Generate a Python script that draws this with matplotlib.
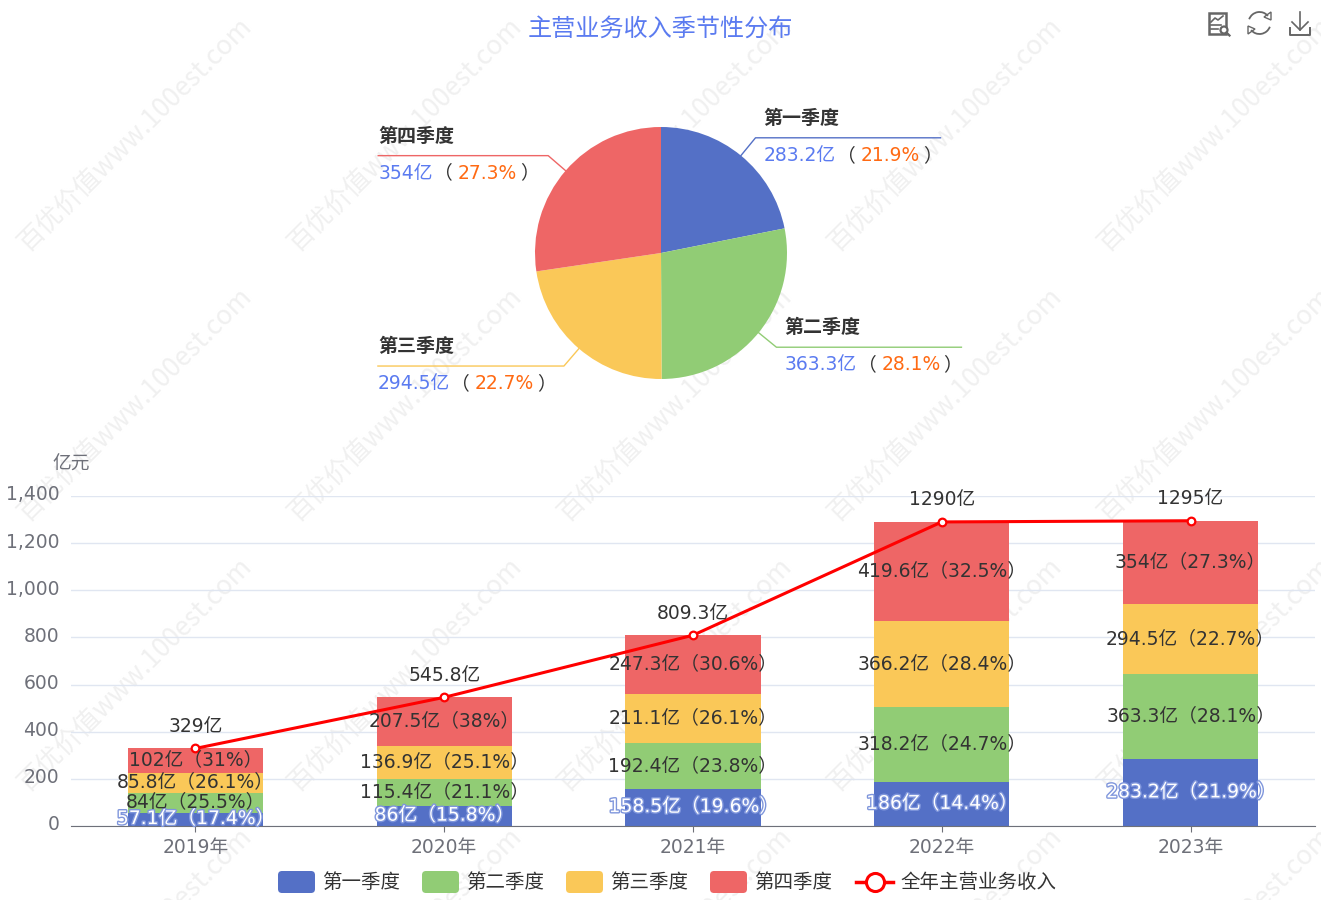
#! /usr/bin/env python3

import numpy as np
from matplotlib import pylab as plt
from matplotlib import patheffects as pe
from matplotlib.patches import FancyBboxPatch, Rectangle, Arc, Polygon, Circle
from matplotlib.transforms import ScaledTranslation

plt.rcParams['font.family'] = ['DejaVu Sans', 'Noto Sans CJK SC']
CJK = ['Noto Sans CJK SC', 'DejaVu Sans']

YEARS = ['2019年', '2020年', '2021年', '2022年', '2023年']
QUARTERS = ['第一季度', '第二季度', '第三季度', '第四季度']
LINE_NAME = '全年主营业务收入'
Q1 = [57.1, 86, 158.5, 186, 283.2]
Q2 = [84, 115.4, 192.4, 318.2, 363.3]
Q3 = [85.8, 136.9, 211.1, 366.2, 294.5]
Q4 = [102, 207.5, 247.3, 419.6, 354]
Q1_PCT = ['17.4', '15.8', '19.6', '14.4', '21.9']
Q2_PCT = ['25.5', '21.1', '23.8', '24.7', '28.1']
Q3_PCT = ['26.1', '25.1', '26.1', '28.4', '22.7']
Q4_PCT = ['31', '38', '30.6', '32.5', '27.3']
TOTAL = [329, 545.8, 809.3, 1290, 1295]
PIE_VALUES = [283.2, 363.3, 294.5, 354]
PIE_PCT = ['21.9', '28.1', '22.7', '27.3']
YTICKS = [0, 200, 400, 600, 800, 1000, 1200, 1400]

COLORS = ['#5470c6', '#91cc75', '#fac858', '#ee6666']
BLUE = '#5b7bf0'
ORANGE = '#ff6a13'
DARK = '#333333'
GREY = '#6e7079'
W, H = 1321, 900
FS = 13.5
LEADER_LEN = [185, 185, 186, 170]


def px_axes(left, top, right, bottom, **kw):
    return fig.add_axes([left / W, 1 - bottom / H, (right - left) / W, (bottom - top) / H], **kw)


def advance(s, size, **kw):
    rend = fig.canvas.get_renderer()
    t = fig.text(0, 0, 'x' + s + 'x', fontsize=size, **kw)
    t2 = fig.text(0, 0, 'xx', fontsize=size, **kw)
    w = t.get_window_extent(rend).width - t2.get_window_extent(rend).width
    t.remove()
    t2.remove()
    return w


def pieces(ax, x, y, parts, size=FS):
    for s, c, gap in parts:
        ax.text(x, y, s, color=c, fontsize=size, ha='left', va='center')
        x += advance(s, size) + gap


fig = plt.figure(figsize=(W / 100, H / 100), dpi=100)

# watermark
bg = px_axes(0, 0, W, H, zorder=0)
bg.set_xlim(0, W)
bg.set_ylim(H, 0)
bg.axis('off')
for cx in range(135, 1400, 270):
    for cy in range(135, 1000, 270):
        bg.text(cx, cy, '百优价值www.100est.com', rotation=45, color='#f0f0f0', family=CJK,
                fontsize=19.0, ha='center', va='center', clip_on=True)

# stacked bars
ax = px_axes(71, 496, 1315, 826, zorder=1)
ax.patch.set_alpha(0)
ax.set_xlim(-0.5, 4.5)
ax.set_ylim(0, 1400)
x = np.arange(len(YEARS))
bottom = np.zeros(len(YEARS))
series = [(Q1, Q1_PCT), (Q2, Q2_PCT), (Q3, Q3_PCT), (Q4, Q4_PCT)]
for (vals, pct), col, name in zip(series, COLORS, QUARTERS):
    vals = np.array(vals)
    ax.bar(x, vals, 0.543, bottom=bottom, color=col, zorder=2, label=name)
    bottom = bottom + vals
ax.plot(x, TOTAL, '-', color='#ff0000', lw=2.2, marker='o', ms=5.5, mfc='white',
        mec='#ff0000', mew=1.6, zorder=3, label=LINE_NAME)
ax.set_yticks(YTICKS)
ax.set_yticklabels([f'{v:,}' for v in YTICKS])
ax.set_xticks(x)
ax.set_xticklabels(YEARS)
ax.tick_params(axis='y', length=0, pad=8.5, labelcolor=GREY, labelsize=FS)
ax.tick_params(axis='x', length=4, color=GREY, pad=4.5, labelcolor=GREY, labelsize=FS)
up = ScaledTranslation(0, 3 / 100, fig.dpi_scale_trans)
for lbl in ax.get_yticklabels():
    lbl.set_transform(lbl.get_transform() + up)
ax.grid(axis='y', color='#e0e6f1', lw=1)
ax.set_axisbelow(True)
for s in ['top', 'right', 'left']:
    ax.spines[s].set_visible(False)
ax.spines['bottom'].set_color(GREY)

# labels over the bars
bottom = np.zeros(len(YEARS))
for k, (vals, pct) in enumerate(series):
    for i in range(len(YEARS)):
        txt = f'{vals[i]:g}亿（{pct[i]}%）'
        t = ax.annotate(txt, (i, bottom[i] + vals[i] / 2), xytext=(0, 0.5), textcoords='offset points',
                        ha='center', va='center', fontsize=FS, zorder=5,
                        color='white' if k == 0 else DARK)
        if k == 0:
            t.set_path_effects([pe.withStroke(linewidth=2, foreground='#7f96dc')])
    bottom = bottom + np.array(vals)
for i, v in enumerate(TOTAL):
    ax.annotate(f'{v:g}亿', (i, v), xytext=(0, 16), textcoords='offset points', ha='center',
                va='center', fontsize=FS, color=DARK, zorder=5)

# pie
pax = px_axes(535, 127, 787, 379, zorder=1)
pax.pie(PIE_VALUES, colors=COLORS, startangle=90, counterclock=False, radius=1)
pax.set_xlim(-1, 1)
pax.set_ylim(-1, 1)

top = px_axes(0, 0, W, H, zorder=2)
top.patch.set_alpha(0)
top.set_xlim(0, W)
top.set_ylim(H, 0)
top.axis('off')

# pie leaders and labels
cx, cy, r = 661, 253, 126
fracs = np.array(PIE_VALUES) / sum(PIE_VALUES)
mids = (np.cumsum(fracs) - fracs / 2) * 2 * np.pi
for name, v, pct, col, a, ll in zip(QUARTERS, PIE_VALUES, PIE_PCT, COLORS, mids, LEADER_LEN):
    sx, sy = np.sin(a), -np.cos(a)
    x0, y0 = cx + r * sx, cy + r * sy
    x1, y1 = cx + (r + 23) * sx, cy + (r + 23) * sy
    d = 1 if sx > 0 else -1
    x2 = x1 + d * ll
    top.plot([x0, x1, x2], [y0, y1, y1], color=col, lw=1)
    left = min(x1, x2) + (8 if d > 0 else 0)
    top.text(left, y1 - 19.5, name, fontsize=FS + 0.2, fontweight='bold', color=DARK, va='center', ha='left', family=CJK)
    pieces(top, left, y1 + 17.5, [(f'{v:g}亿', BLUE, 1), ('（', DARK, 5), (f'{pct}%', ORANGE, 3), ('）', DARK, 0)])

top.text(660, 28.5, '主营业务收入季节性分布', fontsize=17.4, color=BLUE, ha='center', va='center', family=CJK)
top.text(71, 464, '亿元', fontsize=FS, color=GREY, ha='center', va='center', family=CJK)

# legend
lx = [278, 422, 566, 710]
for l, name, col in zip(lx, QUARTERS, COLORS):
    top.add_patch(FancyBboxPatch((l + 3, 874), 31, 16, boxstyle='round,pad=3,rounding_size=4',
                                 fc=col, ec='none'))
    top.text(l + 44, 882.5, name, fontsize=14, color=DARK, va='center', ha='left', family=CJK)
top.plot([856, 893], [882, 882], color='#ff0000', lw=2.5)
top.plot([874.5], [882], 'o', ms=13, mfc='white', mec='#ff0000', mew=2.2)
top.text(900, 882.5, LINE_NAME, fontsize=14, color=DARK, va='center', ha='left', family=CJK)

# toolbox icons
ic = '#666666'
top.add_patch(Rectangle((1208.5, 13), 17, 21, fc='none', ec=ic, lw=1.8))
top.plot([1211, 1215, 1218, 1223], [22, 18, 20, 16], color=ic, lw=1.2)
top.plot([1211, 1221], [25, 25], color=ic, lw=1.2)
top.plot([1211, 1218], [29, 29], color=ic, lw=1.2)
top.add_patch(Circle((1224, 30), 3.5, fc='white', ec=ic, lw=1.6))
top.plot([1226.5, 1229.5], [32.5, 35.5], color=ic, lw=1.6)
top.add_patch(Arc((1259.5, 23), 22, 22, theta1=200, theta2=320, color=ic, lw=1.3))
top.add_patch(Arc((1259.5, 23), 22, 22, theta1=20, theta2=140, color=ic, lw=1.3))
top.add_patch(Polygon([[1271, 12], [1271, 20], [1264, 17]], closed=True, fc='none', ec=ic, lw=1))
top.add_patch(Polygon([[1248, 34], [1248, 26], [1255, 29]], closed=True, fc='none', ec=ic, lw=1))
top.plot([1300, 1300], [12, 30], color=ic, lw=1.2)
top.plot([1292, 1300, 1308], [22, 30, 22], color=ic, lw=1.2)
top.plot([1290, 1290, 1310, 1310], [28, 35, 35, 28], color=ic, lw=1.4)

fig.savefig('out.png', dpi=100)
